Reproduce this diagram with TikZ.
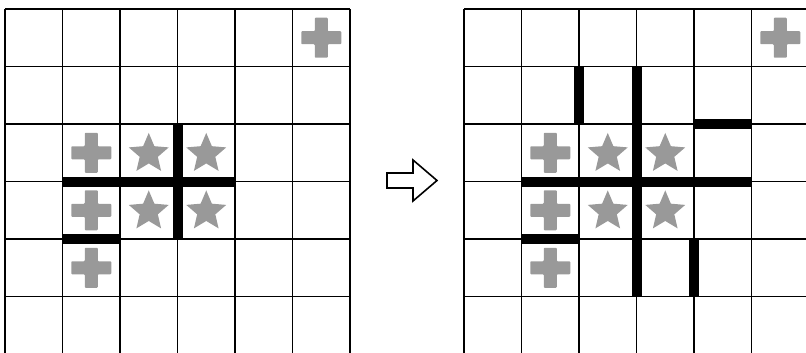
\documentclass[tikz,border=0pt]{standalone}
\usepackage{tikz}
\usepackage{xcolor}
\usetikzlibrary{shapes.geometric}
\definecolor{markgray}{HTML}{999999}
\tikzset{
  gridline/.style={line width=1.6pt, color=black, step=57.5pt},
  wall/.style={line width=10pt, color=black},
  starmark/.style={
    star, star points=5, star point ratio=2.2,
    fill=markgray, draw=none, inner sep=0pt, minimum size=42pt
  },
  plusmark/.pic={
    \fill[markgray, rounded corners=0.8pt]
      (-20pt,-6.5pt) -- (-6.5pt,-6.5pt) -- (-6.5pt,-20pt) -- (6.5pt,-20pt)
      -- (6.5pt,-6.5pt) -- (20pt,-6.5pt) -- (20pt,6.5pt) -- (6.5pt,6.5pt)
      -- (6.5pt,20pt) -- (-6.5pt,20pt) -- (-6.5pt,6.5pt) -- (-20pt,6.5pt) -- cycle;
  },
  openarrow/.style={line width=1.6pt, color=black, line join=miter},
}

\begin{document}
\begin{tikzpicture}[x=57.5pt, y=-57.5pt]
  \useasboundingbox (-5pt,9pt) rectangle (801pt,-344pt);
  % both boards share the grid and the marks
  \foreach \bx/\bn in {0pt/l, 459pt/r}{
    \begin{scope}[xshift=\bx]
      \draw[gridline] (0,0) grid (6,6);
      \foreach \c/\r [count=\i] in {5/0, 1/2, 1/3, 1/4}
        \pic (\bn plus\i) at (\c+0.5,\r+0.5) {plusmark};
      \foreach \c/\r [count=\i] in {2/2, 3/2, 2/3, 3/3}
        \node[starmark] (\bn star\i) at (\c+0.5,\r+0.52) {};
    \end{scope}
  }
  % walls, left board
  \draw[wall] (1,3) -- (4,3);
  \draw[wall] (3,2) -- (3,4);
  \draw[wall] (1,4) -- (2,4);
  % walls, right board
  \begin{scope}[xshift=459pt]
    \draw[wall] (2,1) -- (2,2);
    \draw[wall] (3,1) -- (3,5);
    \draw[wall] (4,2) -- (5,2);
    \draw[wall] (1,3) -- (5,3);
    \draw[wall] (1,4) -- (2,4);
    \draw[wall] (4,4) -- (4,5);
  \end{scope}
  % arrow between boards
  \draw[openarrow] (382pt,-164pt) -- (408pt,-164pt) -- (408pt,-151pt)
    -- (432pt,-171.5pt) -- (408pt,-192pt) -- (408pt,-179pt)
    -- (382pt,-179pt) -- cycle;
\end{tikzpicture}
\end{document}
